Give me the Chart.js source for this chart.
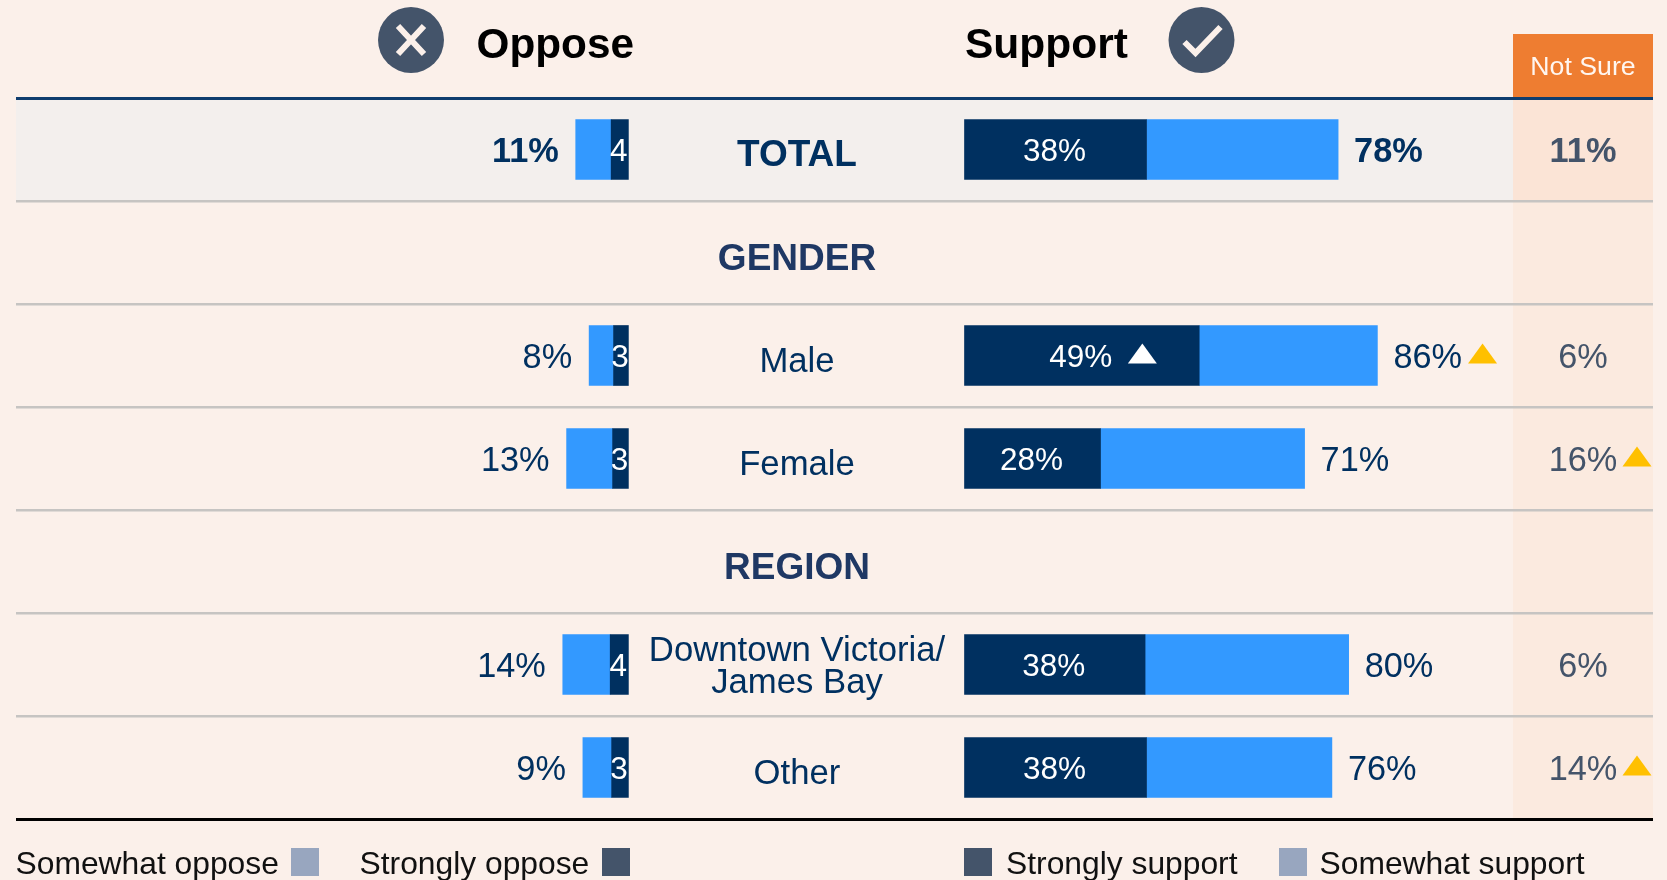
<!DOCTYPE html>
<html>
<head>
<meta charset="utf-8">
<title>Oppose / Support</title>
<script src="https://cdn.jsdelivr.net/npm/chart.js@4"></script>
<style>
  html, body { margin: 0; padding: 0; background: #fbf0ea; overflow: hidden; }
  canvas { display: block; }
</style>
</head>
<body>
<canvas id="chart" width="1667" height="880"></canvas>
<script>
/* ===== Data ===== */
const categories = ['TOTAL', 'GENDER', 'Male', 'Female', 'REGION', 'Downtown Victoria/\nJames Bay', 'Other'];
const stronglyOppose = [3.6, null, 3.1, 3.3, null, 3.8, 3.5];
const somewhatOppose = [7.4, null, 5.1, 9.6, null, 9.9, 6.0];
const stronglySupport = [38, null, 49, 28.4, null, 37.7, 38];
const somewhatSupport = [40, null, 37.2, 42.6, null, 42.5, 38.7];

const opposeLabels = ['11%', '', '8%', '13%', '', '14%', '9%'];
const opposeStrongLabels = ['4', '', '3', '3', '', '4', '3'];
const supportLabels = ['78%', '', '86%', '71%', '', '80%', '76%'];
const supportStrongLabels = ['38%', '', '49%', '28%', '', '38%', '38%'];
const notSureLabels = ['11%', '', '6%', '16%', '', '6%', '14%'];

const headerRows = ['GENDER', 'REGION'];
const supportUp = ['Male'];
const notSureUp = ['Female', 'Other'];
const strongUp = ['Male'];

/* ===== Layout ===== */
const NAVY = '#003060';
const BLUE = '#3399ff';
const SLATE = '#44546a';
const PALE_SLATE = '#98a6bf';
const AMBER = '#ffc000';
const FONT = "'Liberation Sans', Arial, sans-serif";

const PX_PER_PCT = 4.79;
const OPPOSE_ZERO = 628.4;
const SUPPORT_ZERO = 964.5;
const AREA_LEFT = 16;
const AREA_RIGHT = 1653;
const NOT_SURE_LEFT = 1513;
const NOT_SURE_CENTER = 1583;
const LABEL_CENTER = 797;

function text(ctx, str, x, y, font, color, align) {
  ctx.font = font;
  ctx.fillStyle = color;
  ctx.textAlign = align || 'center';
  ctx.textBaseline = 'alphabetic';
  ctx.fillText(str, x, y);
}

function triangle(ctx, cx, cy, color) {
  ctx.fillStyle = color;
  ctx.beginPath();
  ctx.moveTo(cx, cy - 10);
  ctx.lineTo(cx + 14.5, cy + 10);
  ctx.lineTo(cx - 14.5, cy + 10);
  ctx.closePath();
  ctx.fill();
}

function circleIcon(ctx, cx, cy, isCheck) {
  ctx.fillStyle = SLATE;
  ctx.beginPath();
  ctx.arc(cx, cy, 33, 0, Math.PI * 2);
  ctx.fill();
  ctx.strokeStyle = '#fbf0ea';
  ctx.lineWidth = 6;
  ctx.beginPath();
  if (isCheck) {
    ctx.moveTo(cx - 17, cy + 2);
    ctx.lineTo(cx - 6, cy + 13);
    ctx.lineTo(cx + 19, cy - 13);
  } else {
    ctx.moveTo(cx - 13, cy - 14);
    ctx.lineTo(cx + 13, cy + 14);
    ctx.moveTo(cx + 13, cy - 14);
    ctx.lineTo(cx - 13, cy + 14);
  }
  ctx.stroke();
}

function swatch(ctx, x, color) {
  ctx.fillStyle = color;
  ctx.fillRect(x, 848, 28, 28);
}

/* Bands behind the grid: TOTAL row and Not Sure column */
const bandsPlugin = {
  id: 'bands',
  beforeDraw(chart) {
    const { ctx, chartArea, scales } = chart;
    const rowH = (chartArea.bottom - chartArea.top) / categories.length;
    const y0 = scales.y.getPixelForValue(0) - rowH / 2;
    ctx.save();
    ctx.fillStyle = '#f3efed';
    ctx.fillRect(AREA_LEFT, y0, NOT_SURE_LEFT - AREA_LEFT, rowH);
    ctx.fillStyle = '#fbeadf';
    ctx.fillRect(NOT_SURE_LEFT, chartArea.top, AREA_RIGHT - NOT_SURE_LEFT, chartArea.bottom - chartArea.top);
    ctx.fillStyle = '#fbe4d6';
    ctx.fillRect(NOT_SURE_LEFT, y0, AREA_RIGHT - NOT_SURE_LEFT, rowH);
    ctx.fillStyle = '#ee7d31';
    ctx.fillRect(NOT_SURE_LEFT, 34, AREA_RIGHT - NOT_SURE_LEFT, chartArea.top - 34);
    ctx.restore();
  }
};

/* All the text: row names, percentages, headers, legend */
const labelsPlugin = {
  id: 'labels',
  afterDraw(chart) {
    const { ctx, scales } = chart;
    const xO = scales.xOppose;
    const xS = scales.xSupport;
    ctx.save();

    categories.forEach((cat, i) => {
      const y = scales.y.getPixelForValue(i);
      const bold = i === 0;
      const valueFont = (bold ? 'bold ' : '') + '34.3px ' + FONT;

      if (headerRows.includes(cat)) {
        text(ctx, cat, LABEL_CENTER, y + 17, 'bold 37px ' + FONT, '#1f3864');
        return;
      }

      const lines = cat.split('\n');
      if (lines.length > 1) {
        text(ctx, lines[0], LABEL_CENTER, y - 4, '34.7px ' + FONT, NAVY);
        text(ctx, lines[1], LABEL_CENTER, y + 28, '34.7px ' + FONT, NAVY);
      } else {
        text(ctx, cat, LABEL_CENTER, y + 16, (bold ? 'bold 37px ' : '34.7px ') + FONT, NAVY);
      }

      const opposeEnd = xO.getPixelForValue(stronglyOppose[i] + somewhatOppose[i]);
      const supportEnd = xS.getPixelForValue(stronglySupport[i] + somewhatSupport[i]);
      const strongMidO = (xO.getPixelForValue(0) + xO.getPixelForValue(stronglyOppose[i])) / 2;
      const strongMidS = (xS.getPixelForValue(0) + xS.getPixelForValue(stronglySupport[i])) / 2;

      text(ctx, opposeLabels[i], opposeEnd - 17, y + 12, valueFont, NAVY, 'right');
      text(ctx, supportLabels[i], supportEnd + 16, y + 12, valueFont, NAVY, 'left');
      text(ctx, opposeStrongLabels[i], strongMidO - 1, y + 11, '31.5px ' + FONT, '#ffffff');
      text(ctx, supportStrongLabels[i], strongMidS - 1, y + 11, '31.5px ' + FONT, '#ffffff');
      text(ctx, notSureLabels[i], NOT_SURE_CENTER, y + 12, valueFont, SLATE);

      if (strongUp.includes(cat)) triangle(ctx, strongMidS + 60.5, y - 2, '#ffffff');
      if (supportUp.includes(cat)) {
        const w = ctx.measureText(supportLabels[i]).width;
        triangle(ctx, supportEnd + 16 + w + 20.5, y - 2, AMBER);
      }
      if (notSureUp.includes(cat)) triangle(ctx, 1637, y - 2, AMBER);
    });

    // Encabezados
    circleIcon(ctx, 411, 40, false);
    circleIcon(ctx, 1201.5, 40, true);
    text(ctx, 'Oppose', 476.5, 58, 'bold 42.3px ' + FONT, '#000000', 'left');
    text(ctx, 'Support', 965, 58, 'bold 42.5px ' + FONT, '#000000', 'left');
    text(ctx, 'Not Sure', 1583, 75, '26.7px ' + FONT, '#fff6f0');

    // Leyenda
    const legendFont = '31.8px ' + FONT;
    text(ctx, 'Somewhat oppose', 15.5, 874, legendFont, '#111111', 'left');
    swatch(ctx, 291, PALE_SLATE);
    text(ctx, 'Strongly oppose', 359.5, 874, legendFont, '#111111', 'left');
    swatch(ctx, 602, SLATE);
    swatch(ctx, 964, SLATE);
    text(ctx, 'Strongly support', 1006, 874, legendFont, '#111111', 'left');
    swatch(ctx, 1279, PALE_SLATE);
    text(ctx, 'Somewhat support', 1319.5, 874, legendFont, '#111111', 'left');

    ctx.restore();
  }
};

// La última línea del grid no tiene tick, su contexto llega sin index
function gridColor(c) {
  if (c.index === 0) return '#0f3d6e';
  if (c.index === undefined) return '#000000';
  return '#c6c4c2';
}

new Chart(document.getElementById('chart').getContext('2d'), {
  type: 'bar',
  data: {
    labels: categories,
    datasets: [
      { label: 'Strongly oppose', data: stronglyOppose, xAxisID: 'xOppose', backgroundColor: NAVY, stack: 'oppose' },
      { label: 'Somewhat oppose', data: somewhatOppose, xAxisID: 'xOppose', backgroundColor: BLUE, stack: 'oppose' },
      { label: 'Strongly support', data: stronglySupport, xAxisID: 'xSupport', backgroundColor: NAVY, stack: 'support' },
      { label: 'Somewhat support', data: somewhatSupport, xAxisID: 'xSupport', backgroundColor: BLUE, stack: 'support' },
    ]
  },
  options: {
    indexAxis: 'y',
    responsive: false,
    animation: false,
    grouped: false,
    barThickness: 60,
    layout: { padding: { left: AREA_LEFT, right: 1667 - AREA_RIGHT, top: 98, bottom: 61 } },
    plugins: { legend: { display: false }, tooltip: { enabled: false } },
    scales: {
      y: {
        stacked: true,
        border: { display: false },
        ticks: { display: false },
        grid: {
          offset: true,
          drawTicks: false,
          color: gridColor,
          lineWidth: (c) => (c.index === 0 || c.index === undefined) ? 3 : 2.5,
        },
      },
      xOppose: {
        type: 'linear',
        axis: 'x',
        stacked: true,
        display: false,
        reverse: true,
        min: (OPPOSE_ZERO - AREA_RIGHT) / PX_PER_PCT,
        max: (OPPOSE_ZERO - AREA_LEFT) / PX_PER_PCT,
      },
      xSupport: {
        type: 'linear',
        axis: 'x',
        stacked: true,
        display: false,
        min: (AREA_LEFT - SUPPORT_ZERO) / PX_PER_PCT,
        max: (AREA_RIGHT - SUPPORT_ZERO) / PX_PER_PCT,
      },
    },
  },
  plugins: [bandsPlugin, labelsPlugin],
});
</script>
</body>
</html>
